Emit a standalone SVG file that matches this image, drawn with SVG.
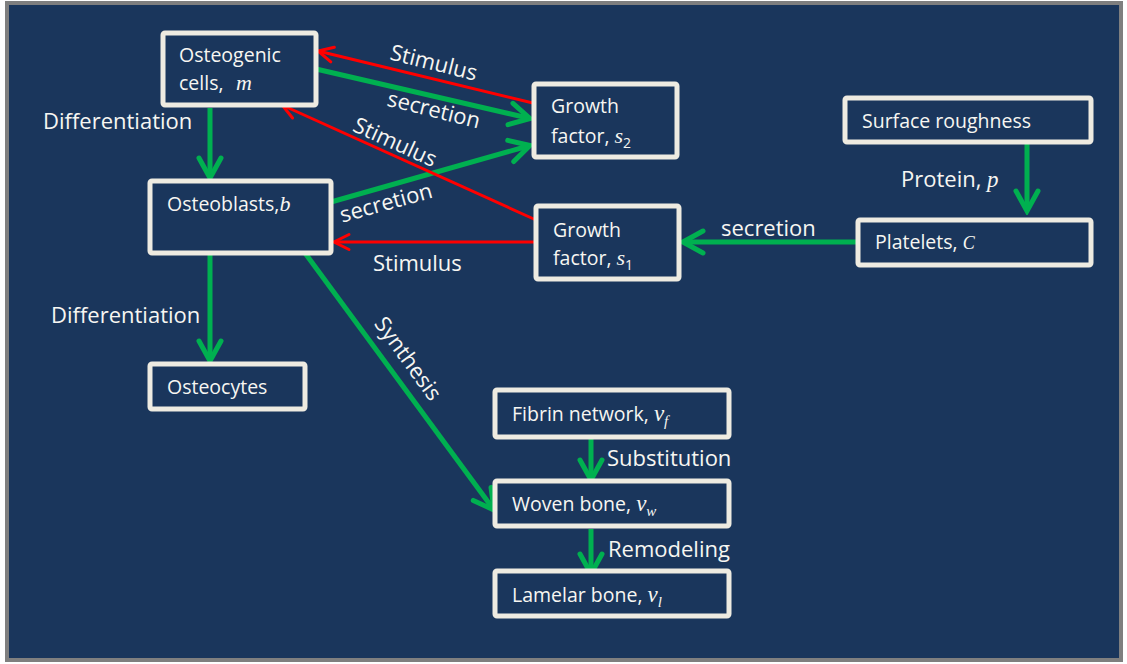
<svg xmlns="http://www.w3.org/2000/svg" width="1127" height="664" viewBox="0 0 1127 664">
<defs>
<style>
.node{fill:#1a365c;stroke:#eeebe1;stroke-width:5}
.t{font-family:"Open Sans","Liberation Sans",sans-serif;font-size:19.5px;fill:#f7f6f2}
.l{font-family:"Open Sans","Liberation Sans",sans-serif;font-size:22px;fill:#f7f6f2}
.m{font-family:"Liberation Serif",serif;font-style:italic}
.g{stroke:#00b050;stroke-width:5;fill:none}
.r{stroke:#ff0000;stroke-width:3;fill:none}
</style>
<marker id="ga" markerUnits="userSpaceOnUse" viewBox="-24 -14 28 28" markerWidth="28" markerHeight="28" refX="0" refY="0" orient="auto">
<path d="M-20,-11 L0,0 L-20,11" fill="none" stroke="#00b050" stroke-width="5" stroke-linejoin="miter" stroke-linecap="round"/>
</marker>
<marker id="ra" markerUnits="userSpaceOnUse" viewBox="-18 -10 22 20" markerWidth="22" markerHeight="20" refX="0" refY="0" orient="auto">
<path d="M-15,-7.5 L0,0 L-15,7.5" fill="none" stroke="#ff0000" stroke-width="3" stroke-linecap="round"/>
</marker>
</defs>
<rect x="0" y="0" width="1127" height="664" fill="#ffffff"/>
<rect x="7" y="3" width="1114" height="657" fill="#1a365c" stroke="#7f7f7f" stroke-width="4"/>

<g id="connectors">
<line class="g" x1="210" y1="108" x2="210" y2="178" marker-end="url(#ga)"/>
<line class="g" x1="210" y1="255" x2="210" y2="361" marker-end="url(#ga)"/>
<line class="g" x1="316" y1="69" x2="530" y2="118.5" marker-end="url(#ga)"/>
<line class="g" x1="331" y1="202" x2="530" y2="145.5" marker-end="url(#ga)"/>
<line class="g" x1="858" y1="242" x2="683" y2="242" marker-end="url(#ga)"/>
<line class="g" x1="1027" y1="143" x2="1027" y2="211" marker-end="url(#ga)"/>
<line class="g" x1="305" y1="253" x2="494" y2="510" marker-end="url(#ga)"/>
<line class="g" x1="591" y1="439" x2="591" y2="480" marker-end="url(#ga)"/>
<line class="g" x1="591" y1="529" x2="591" y2="574" marker-end="url(#ga)"/>
<line class="r" x1="537" y1="104" x2="318" y2="51" marker-end="url(#ra)"/>
<line class="r" x1="536" y1="220" x2="282" y2="105" marker-end="url(#ra)"/>
<line class="r" x1="536" y1="242" x2="334" y2="242" marker-end="url(#ra)"/>
</g>

<g id="edge-labels">
<text class="l" transform="translate(432,70) rotate(14)" text-anchor="middle">Stimulus</text>
<text class="l" transform="translate(432,117) rotate(14)" text-anchor="middle">secretion</text>
<text class="l" transform="translate(392,149) rotate(24.5)" text-anchor="middle">Stimulus</text>
<text class="l" transform="translate(388,210) rotate(-15.5)" text-anchor="middle">secretion</text>
<text class="l" x="373" y="271">Stimulus</text>
<text class="l" x="721" y="236">secretion</text>
<text class="l" x="43" y="129">Differentiation</text>
<text class="l" x="51" y="323">Differentiation</text>
<text class="l" x="901" y="187">Protein, <tspan class="m" font-size="23">p</tspan></text>
<text class="l" transform="translate(402,363) rotate(54)" text-anchor="middle">Synthesis</text>
<text class="l" x="607" y="466">Substitution</text>
<text class="l" x="608" y="557">Remodeling</text>
</g>

<g id="osteogenic">
<rect class="node" x="163" y="33" width="153" height="72" rx="2"/>
<text class="t" x="179" y="62">Osteogenic</text>
<text class="t" x="179" y="90">cells, <tspan class="m" font-size="22" x="236">m</tspan></text>
</g>
<g id="osteoblasts">
<rect class="node" x="150" y="181" width="181" height="72" rx="2"/>
<text class="t" x="167" y="211">Osteoblasts,<tspan class="m" font-size="22">b</tspan></text>
</g>
<g id="osteocytes">
<rect class="node" x="150" y="364" width="155" height="45" rx="2"/>
<text class="t" x="167" y="394">Osteocytes</text>
</g>
<g id="growth-s2">
<rect class="node" x="534" y="84" width="143" height="73" rx="2"/>
<text class="t" x="551" y="113">Growth</text>
<text class="t" x="551" y="143">factor, <tspan class="m" font-size="22">s</tspan><tspan font-size="14" dy="5">2</tspan></text>
</g>
<g id="growth-s1">
<rect class="node" x="536" y="206" width="143" height="73" rx="2"/>
<text class="t" x="553" y="237">Growth</text>
<text class="t" x="553" y="265">factor, <tspan class="m" font-size="22">s</tspan><tspan font-size="14" dy="5">1</tspan></text>
</g>
<g id="surface-roughness">
<rect class="node" x="845" y="98" width="246" height="44" rx="2"/>
<text class="t" x="862" y="128">Surface roughness</text>
</g>
<g id="platelets">
<rect class="node" x="858" y="220" width="233" height="45" rx="2"/>
<text class="t" x="875" y="249">Platelets, <tspan class="m" font-size="18">C</tspan></text>
</g>
<g id="fibrin">
<rect class="node" x="495" y="390" width="234" height="47" rx="2"/>
<text class="t" x="512" y="421">Fibrin network, <tspan class="m" font-size="23">ν</tspan><tspan class="m" font-size="15" dy="5">f</tspan></text>
</g>
<g id="woven">
<rect class="node" x="495" y="481" width="234" height="45" rx="2"/>
<text class="t" x="512" y="511">Woven bone, <tspan class="m" font-size="23">ν</tspan><tspan class="m" font-size="15" dy="5">w</tspan></text>
</g>
<g id="lamelar">
<rect class="node" x="495" y="571" width="234" height="45" rx="2"/>
<text class="t" x="512" y="602">Lamelar bone, <tspan class="m" font-size="23">ν</tspan><tspan class="m" font-size="15" dy="5">l</tspan></text>
</g>
</svg>
